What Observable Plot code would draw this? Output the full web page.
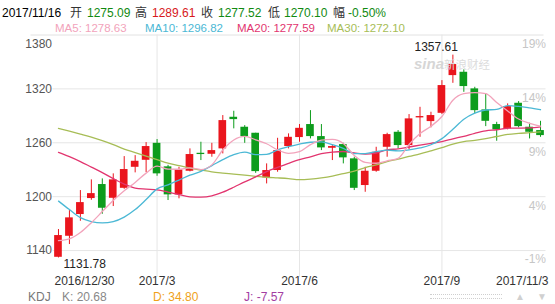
<!DOCTYPE html>
<html><head><meta charset="utf-8">
<script src="https://cdn.jsdelivr.net/npm/d3@7"></script>
<script src="https://cdn.jsdelivr.net/npm/@observablehq/plot@0.6"></script>
<style>
body{margin:0;background:#fff;}
#wrap{position:relative;width:555px;height:304px;overflow:hidden;font-family:"Liberation Sans",Arial,"Noto Sans CJK SC",sans-serif;}
#wrap svg{position:absolute;left:0;top:0;}
.t{position:absolute;white-space:nowrap;font-size:12px;line-height:14px;}
</style></head><body><div id="wrap"></div>
<script>
// ---- data (weekly candles, 2016/12/30 .. 2017/11/3) ----
const open  = [1132.5,1155.9,1180.1,1197.9,1213.5,1198.2,1209.3,1232.7,1240.5,1259.4,1233.2,1202.0,1228.3,1248.3,1247.2,1253.2,1288.4,1277.3,1270.6,1220.9,1229.1,1255.8,1265.8,1280.3,1266.9,1253.9,1258.0,1242.1,1212.4,1228.3,1255.0,1271.7,1256.9,1287.7,1283.6,1292.8,1334.8,1338.5,1320.0,1296.6,1280.3,1275.5,1304.0,1277.3,1273.6];
const high  = [1163.4,1184.5,1206.8,1218.7,1219.8,1225.4,1244.6,1245.7,1260.2,1263.6,1234.9,1232.7,1253.2,1260.6,1259.4,1290.3,1295.1,1279.1,1270.6,1236.5,1265.0,1269.9,1280.3,1295.8,1280.3,1256.9,1259.4,1243.9,1232.7,1255.0,1270.6,1273.6,1291.4,1299.5,1294.0,1329.2,1357.61,1341.2,1321.8,1314.4,1282.8,1303.3,1305.9,1281.7,1283.9];
const low   = [1131.78,1146.7,1172.6,1196.0,1180.4,1189.0,1208.2,1226.5,1226.8,1222.7,1195.7,1197.6,1227.6,1240.2,1243.9,1247.6,1275.5,1259.4,1226.0,1214.2,1227.2,1253.2,1260.6,1264.3,1251.3,1240.2,1236.5,1206.8,1204.9,1227.2,1243.9,1253.2,1252.1,1266.1,1276.6,1291.4,1326.2,1316.2,1292.2,1278.0,1261.7,1274.4,1276.6,1264.3,1266.1];
const close = [1156.7,1176.4,1193.4,1203.4,1187.1,1218.7,1230.2,1239.4,1255.8,1225.4,1202.0,1229.8,1246.9,1246.9,1251.3,1284.7,1285.8,1266.9,1227.9,1229.1,1251.3,1266.1,1276.1,1266.9,1254.3,1255.8,1243.2,1209.3,1228.3,1249.4,1269.1,1256.9,1286.6,1289.2,1290.3,1323.7,1347.1,1322.6,1295.8,1283.9,1274.4,1300.3,1278.0,1271.7,1268.0];
const ma5  = [1151,1153,1160,1171,1183.4,1195.8,1206.6,1215.8,1226.2,1233.9,1230.6,1230.5,1232.0,1230.2,1235.4,1251.9,1263.1,1267.1,1263.3,1258.9,1252.2,1248.3,1250.1,1257.9,1262.9,1263.8,1259.3,1245.9,1238.2,1237.2,1239.9,1242.6,1258.1,1270.2,1278.4,1289.3,1307.4,1314.6,1315.9,1314.6,1304.8,1295.4,1286.5,1281.7,1278.6];
const ma10 = [1195.1,1185.6,1176.7,1172.3,1170.8,1172.3,1177.3,1185.6,1196.8,1208.7,1213.2,1218.5,1223.9,1228.2,1234.6,1241.2,1246.8,1249.6,1246.8,1247.1,1252.1,1255.7,1258.6,1260.6,1260.9,1258.0,1253.8,1248.0,1248.0,1250.1,1251.9,1250.9,1252.0,1254.2,1257.8,1264.6,1275.0,1286.3,1293.1,1296.5,1297.1,1301.4,1300.5,1298.8,1296.8];
const ma20 = [1249.4,1244.6,1239.1,1232.9,1226.8,1220.1,1214.0,1209.6,1208.5,1207.6,1205.1,1202.3,1199.8,1199.6,1201.0,1205.0,1210.5,1216.5,1222.0,1227.9,1232.6,1237.1,1241.2,1244.4,1247.8,1249.6,1250.3,1248.8,1247.4,1248.6,1252.0,1253.3,1255.3,1257.4,1259.4,1261.3,1264.4,1267.2,1270.6,1273.3,1274.5,1276.2,1276.3,1276.5,1277.6];
const ma30 = [1276.1,1273.0,1269.7,1266.3,1262.4,1258.0,1253.0,1249.1,1245.2,1241.3,1237.4,1234.6,1231.8,1229.6,1227.6,1226.3,1225.2,1224.0,1222.7,1221.6,1220.9,1220.1,1219.0,1219.6,1220.9,1222.9,1225.7,1228.5,1232.4,1235.3,1239.0,1241.7,1244.8,1247.7,1251.1,1254.6,1258.5,1261.3,1262.6,1264.6,1267.0,1269.3,1270.4,1271.2,1272.1];

const yTicks = [1140, 1200, 1260, 1320, 1380];
const yRightLabels = ["-1%", "4%", "9%", "14%", "19%"];
const xTickLabels = ["2016/12/30", "2017/3", "2017/6", "2017/9", "2017/11/3"];
const xTickWeeks = [0, 9, 22, 35, 44];
const monthWeeks = [9, 22, 35];

const quoteLabels = ["2017/11/16", "开", "1275.09", "高", "1289.61", "收", "1277.52", "低", "1270.10", "幅", "-0.50%"];
const maLegend = ["MA5: 1278.63", "MA10: 1296.82", "MA20: 1277.59", "MA30: 1272.10"];
const kdjLabels = ["KDJ", "K: 20.68", "D: 34.80", "J: -7.57"];

// ---- styles ----
const RED = "#ea151d", GREEN = "#0d9c1c";
const QGREEN = "#118a11", QRED = "#d7191c";
const MA_COLORS = ["#f2a3bb", "#4bb8d5", "#e2356f", "#a7bd56"];
const FONT = '"Liberation Sans", Arial, "Noto Sans CJK SC", sans-serif';

const candles = open.map((o, i) => ({i, open: o, high: high[i], low: low[i], close: close[i], up: close[i] >= o}));
const col = d => d.up ? RED : GREEN;
const maSeries = [ma30, ma20, ma10, ma5];
const maColorsDraw = [MA_COLORS[3], MA_COLORS[2], MA_COLORS[1], MA_COLORS[0]];
const iMax = d3.maxIndex(high), iMin = d3.minIndex(low);
const xt = xTickWeeks.map((w, k) => ({w, label: xTickLabels[k]}));

const chart = Plot.plot({
  width: 555, height: 304,
  marginTop: 34.5, marginBottom: 27, marginLeft: 52.5, marginRight: 9.5,
  x: {type: "linear", domain: [-0.5, 44.5], axis: null},
  y: {domain: [1110, 1380], axis: null},
  style: {fontFamily: FONT, fontSize: "12px", background: "transparent", overflow: "visible"},
  marks: [
    Plot.ruleY(yTicks.slice(0, 4), {stroke: "#e6e6e6", strokeWidth: 1}),
    Plot.ruleY(yTicks.slice(4), {stroke: "#e2e2e2", strokeWidth: 1, insetLeft: -22, insetRight: 2}),
    Plot.ruleX(monthWeeks, {stroke: "#e6e6e6", strokeWidth: 1}),
    Plot.ruleX(candles, {x: "i", y1: "low", y2: "high", stroke: col, strokeWidth: 1}),
    Plot.rect(candles, {x1: d => d.i - 0.35, x2: d => d.i + 0.35, y1: "open", y2: "close", fill: col}),
    ...maSeries.map((vals, k) => Plot.line(vals, {x: (d, i) => i, y: d => d, stroke: maColorsDraw[k], strokeWidth: 1.3, curve: "monotone-x"})),
    // left axis labels
    Plot.text(yTicks.slice(0, 4), {y: d => d, text: d => String(d), frameAnchor: "left", textAnchor: "end", dx: -1, fill: "#555", fontSize: 12}),
    Plot.text(yTicks.slice(4), {y: d => d, text: d => String(d), frameAnchor: "left", textAnchor: "end", dx: -1, dy: 9, fill: "#555", fontSize: 12}),
    // right axis labels
    Plot.text(yTicks, {y: d => d, text: (d, i) => yRightLabels[i], frameAnchor: "right", textAnchor: "end", dy: 9, fill: "#c6c6c6", fontSize: 12}),
    // x labels
    Plot.text(xt.slice(0, 1), {x: "w", text: "label", frameAnchor: "bottom", textAnchor: "start", dx: -4, dy: 7, fill: "#333", fontSize: 12}),
    Plot.text(xt.slice(1, 4), {x: "w", text: "label", frameAnchor: "bottom", textAnchor: "middle", dy: 7, fill: "#333", fontSize: 12}),
    Plot.text(xt.slice(4), {x: "w", text: "label", frameAnchor: "bottom", textAnchor: "end", dx: 8, dy: 7, fill: "#333", fontSize: 12}),
    // extreme annotations
    Plot.text([candles[iMax]], {x: "i", y: "high", text: d => d.high.toFixed(2), textAnchor: "end", dx: 5, dy: -8, fill: "#222", fontSize: 12}),
    Plot.text([candles[iMin]], {x: "i", y: "low", text: d => d.low.toFixed(2), textAnchor: "start", dx: 5, dy: 6, fill: "#222", fontSize: 12})
  ]
});

const wrap = document.getElementById("wrap");
wrap.appendChild(chart);

function addText(txt, left, top, color, extra) {
  const s = document.createElement("span");
  s.className = "t";
  s.textContent = txt;
  s.style.left = left + "px";
  s.style.top = top + "px";
  s.style.color = color;
  if (extra) Object.assign(s.style, extra);
  wrap.appendChild(s);
  return s;
}
// header quote row
const qLeft = [2, 70, 87, 135, 152, 201, 218, 268, 284, 333, 348];
const qColor = ["#000", "#333", QGREEN, "#333", QRED, "#333", QGREEN, "#333", QGREEN, "#333", QGREEN];
quoteLabels.forEach((t, k) => addText(t, qLeft[k], 5.5, qColor[k]));
// MA legend row
const mLeft = [55, 145, 237, 327];
maLegend.forEach((t, k) => addText(t, mLeft[k], 20.5, MA_COLORS[k], {fontSize: "11.5px"}));
// watermark
addText("sina", 414, 57, "#d6d6d6", {fontStyle: "italic", fontWeight: "bold", fontSize: "15px"});
addText("新浪财经", 444, 58, "#dcdcdc", {fontSize: "11.5px"});
// KDJ row
const kLeft = [28, 62, 153, 244];
const kColor = ["#777", "#888", "#f0a21a", "#a23ea2"];
kdjLabels.forEach((t, k) => addText(t, kLeft[k], 289.5, kColor[k]));
// scroll decorations
const bar = document.createElement("div");
Object.assign(bar.style, {position: "absolute", left: "430px", top: "294px", width: "72px", height: "3px", borderTop: "1px dotted #cfcfcf", borderBottom: "1px dotted #cfcfcf"});
wrap.appendChild(bar);
addText("▲", 515, 289.5, "#d0d0d0", {fontSize: "10px"});
addText("▼", 537, 289.5, "#d0d0d0", {fontSize: "10px"});
</script>
</body></html>
